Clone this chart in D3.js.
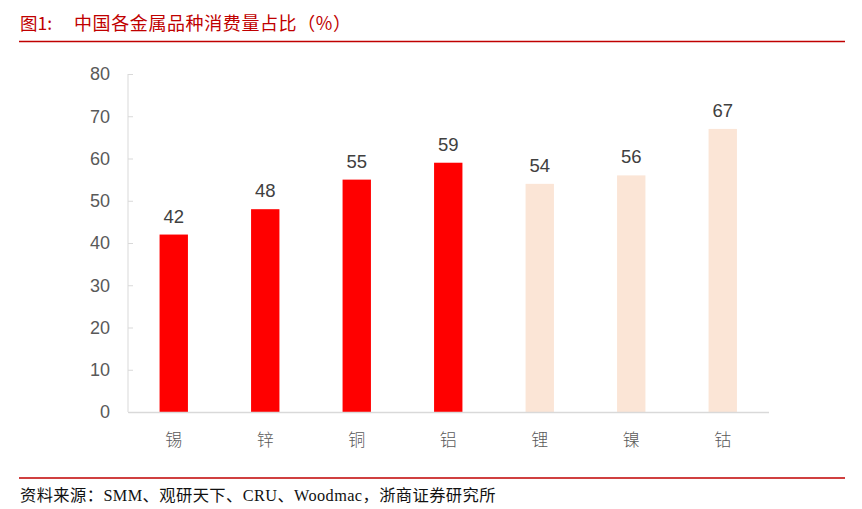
<!DOCTYPE html>
<html><head><meta charset="utf-8">
<script src="https://cdn.jsdelivr.net/npm/d3@7"></script>
<style>body{margin:0;background:#fff}</style>
</head><body><div id="chart"></div>
<script>
const categories = ["锡","锌","铜","铝","锂","镍","钴"];
const values = [42,48,55,59,54,56,67];
const groups = ["base","base","base","base","new","new","new"];
const yTicks = [0,10,20,30,40,50,60,70,80];
const titleText = "图1:";
const titleMain = "中国各金属品种消费量占比（%）";
const sourceText = "资料来源：SMM、观研天下、CRU、Woodmac，浙商证券研究所";

const W = 862, H = 509;
const svg = d3.select("#chart").append("svg").attr("width", W).attr("height", H);

const colors = {base: "#FF0000", new: "#FBE5D6"};
const x = d3.scaleBand().domain(categories).range([128, 768.5]).paddingInner(0.69).paddingOuter(0.345);
const y = d3.scaleLinear().domain([0, 80]).range([412, 74]);

// title
svg.append("text").attr("x", 20).attr("y", 29.5).attr("fill", "#C00000")
  .attr("font-family", "'Noto Sans CJK SC', sans-serif").attr("font-size", 17.5).text(titleText);
svg.append("text").attr("x", 74).attr("y", 29.5).attr("fill", "#C00000")
  .attr("font-family", "'Noto Sans CJK SC', sans-serif").attr("font-size", 18)
  .attr("letter-spacing", 0.6).text(titleMain);
svg.append("line").attr("x1", 19).attr("x2", 845).attr("y1", 41.5).attr("y2", 41.5)
  .attr("stroke", "#C00000").attr("stroke-width", 1.3);

// y axis
const yAxis = svg.append("g").attr("transform", "translate(128,0)")
  .call(d3.axisRight(y).tickValues(yTicks).tickSize(5).tickFormat(""));
yAxis.select(".domain").attr("stroke", "#D9D9D9").attr("d", "M0,74V412");
yAxis.selectAll(".tick line").attr("stroke", "#D9D9D9");
svg.append("g").selectAll("text").data(yTicks).join("text")
  .attr("x", 110).attr("y", d => y(d)).attr("dy", "0.36em").attr("text-anchor", "end")
  .attr("fill", "#595959").attr("font-family", "Arial, 'Liberation Sans', sans-serif")
  .attr("font-size", 18).text(d => d);

// bars
svg.append("g").selectAll("rect").data(values).join("rect")
  .attr("x", (d, i) => x(categories[i])).attr("width", x.bandwidth())
  .attr("y", d => y(d)).attr("height", d => y(0) - y(d))
  .attr("fill", (d, i) => colors[groups[i]]);

// x axis
const xAxis = svg.append("g").attr("transform", "translate(0,412)")
  .call(d3.axisBottom(x).tickSize(0).tickFormat(""));
xAxis.select(".domain").attr("stroke", "#D9D9D9").attr("stroke-width", 1.5);
svg.append("g").selectAll("text").data(categories).join("text")
  .attr("x", d => x(d) + x.bandwidth() / 2).attr("y", 440).attr("dy", "0.36em")
  .attr("text-anchor", "middle").attr("fill", "#595959")
  .attr("font-family", "'Noto Sans CJK SC', sans-serif").attr("font-weight", 300)
  .attr("font-size", 17).text(d => d);

// value labels
svg.append("g").selectAll("text").data(values).join("text")
  .attr("x", (d, i) => x(categories[i]) + x.bandwidth() / 2).attr("y", d => y(d) - 12)
  .attr("text-anchor", "middle").attr("fill", "#404040")
  .attr("font-family", "Arial, 'Liberation Sans', sans-serif").attr("font-size", 18.5)
  .text(d => d);

// source
svg.append("line").attr("x1", 19).attr("x2", 845).attr("y1", 478).attr("y2", 478)
  .attr("stroke", "#C00000").attr("stroke-width", 1.3);
svg.append("text").attr("x", 20).attr("y", 501).attr("fill", "#111")
  .attr("font-family", "'Liberation Serif', 'Noto Sans CJK SC', serif").attr("font-size", 16.3)
  .attr("letter-spacing", 0.4).text(sourceText);
</script></body></html>
